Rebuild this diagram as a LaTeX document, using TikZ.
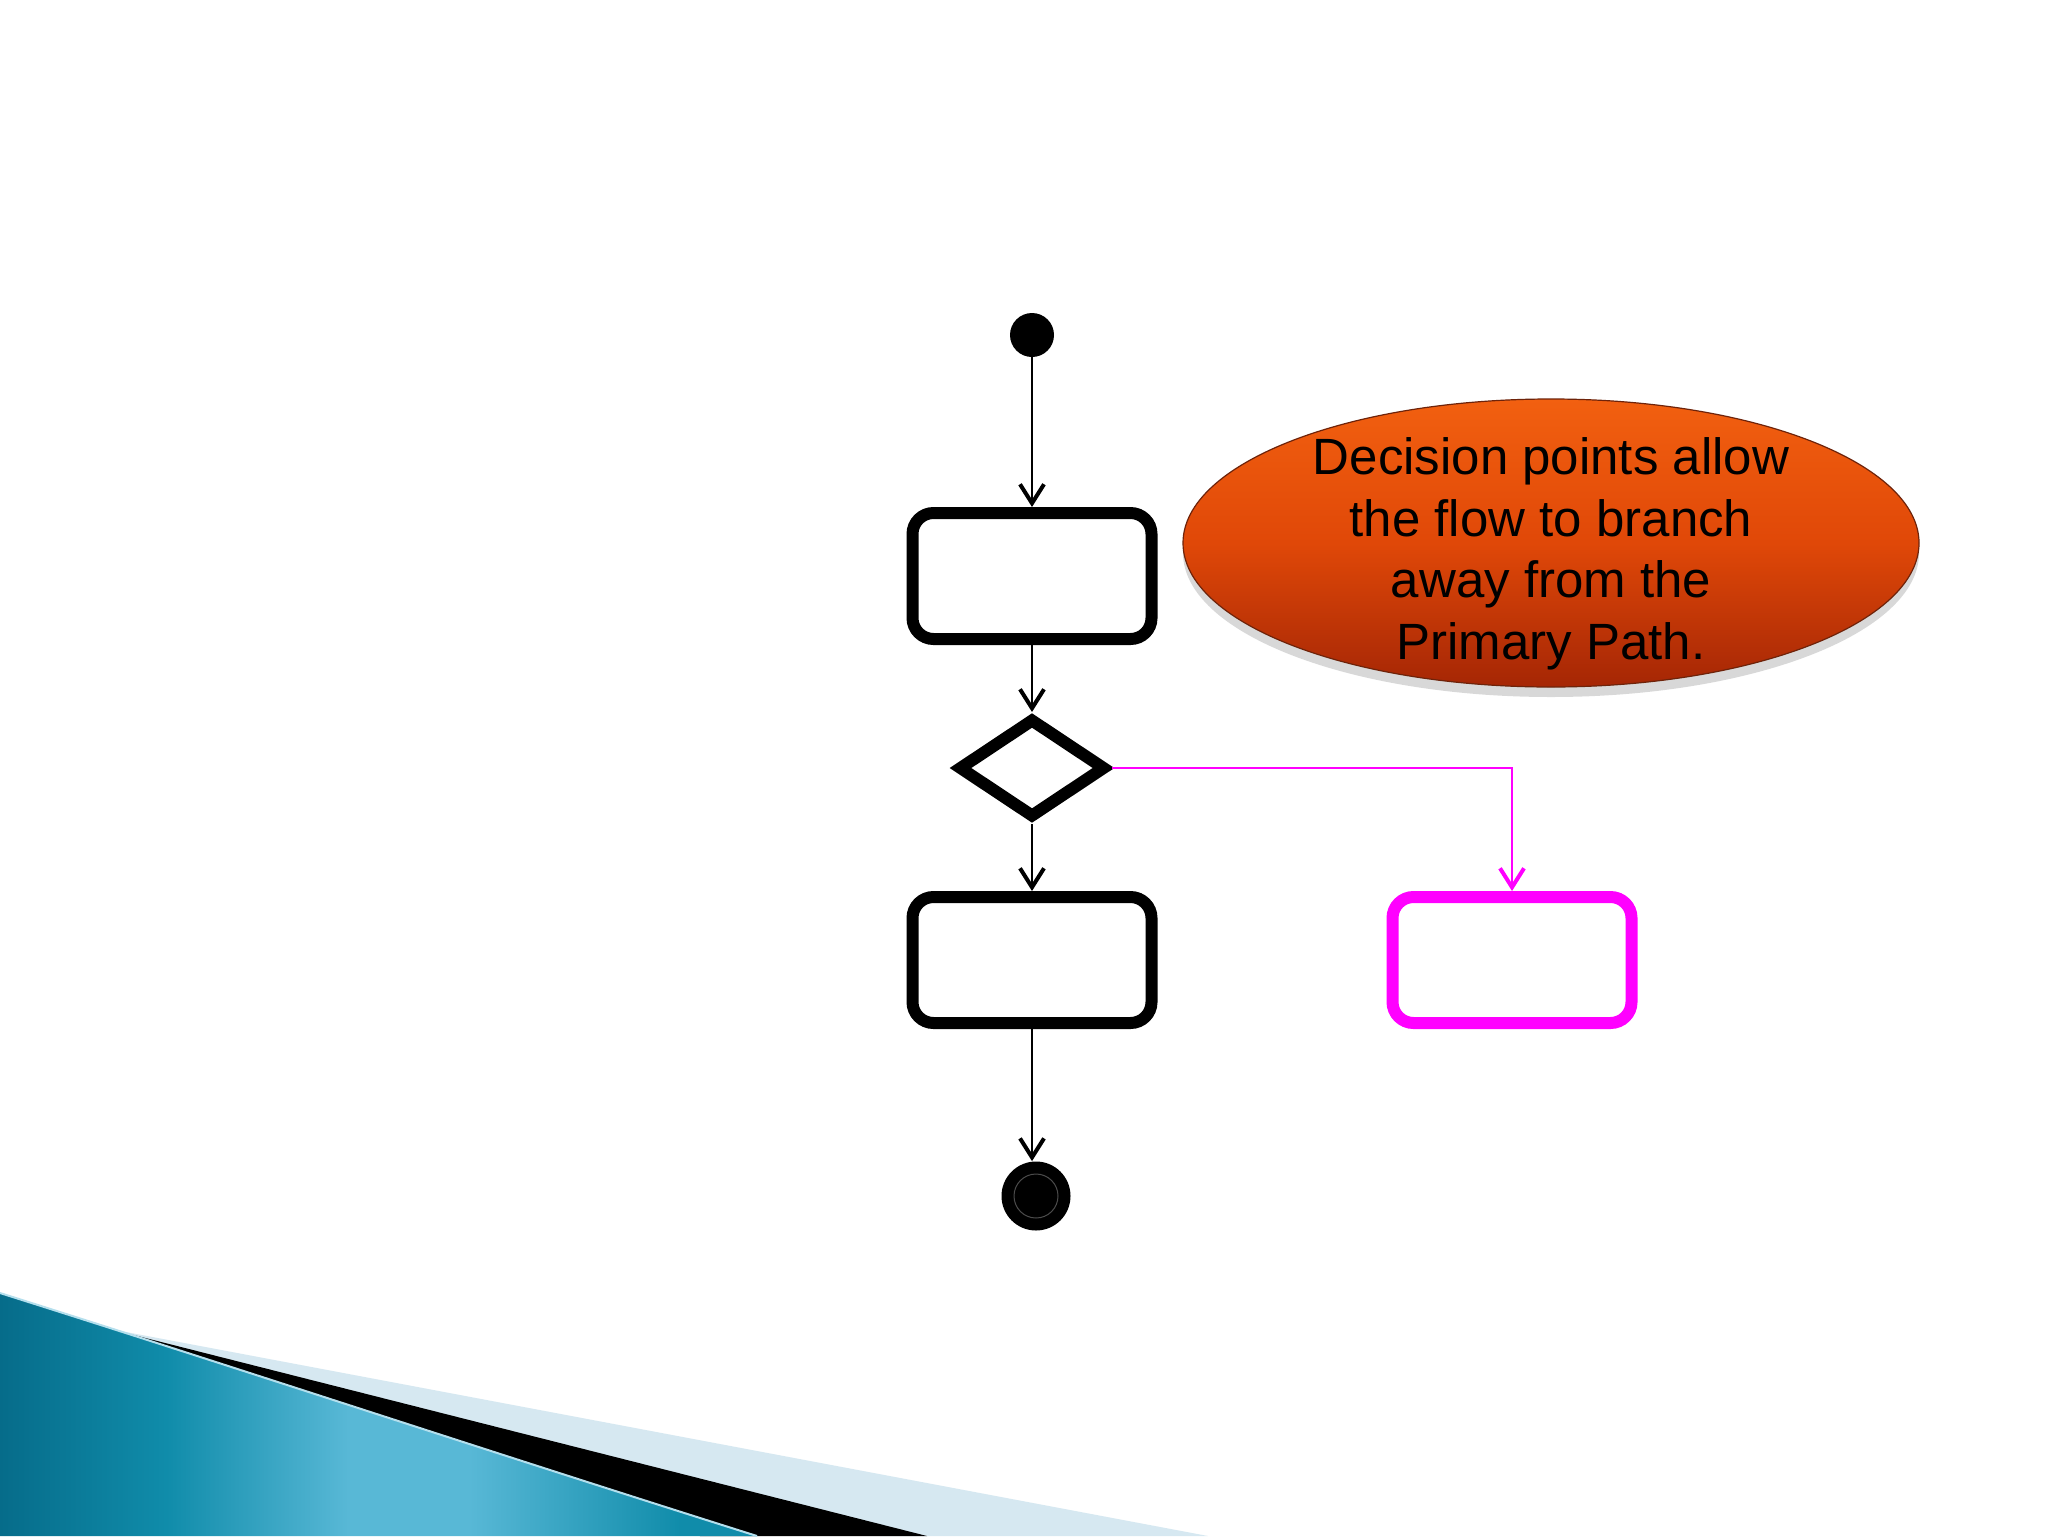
\documentclass[tikz,border=0pt]{standalone}
\usepackage{fontspec}
\newfontfamily\notefont{Liberation Sans}
\usetikzlibrary{arrows.meta,shapes.geometric,shadows}

\definecolor{bubbletop}{RGB}{242,96,16}
\definecolor{bubblemid}{RGB}{224,72,8}
\definecolor{bubblebottom}{RGB}{165,38,5}
\definecolor{bubbleedge}{RGB}{110,35,10}
\definecolor{wavedark}{RGB}{6,108,138}
\definecolor{wavelight}{RGB}{88,184,214}
\definecolor{wavemid}{RGB}{16,140,170}
\definecolor{wavepale}{RGB}{214,232,241}
\definecolor{branchpink}{RGB}{255,0,255}

\pgfdeclarehorizontalshading{waveshade}{100bp}{color(0bp)=(wavedark); color(25bp)=(wavedark); color(36bp)=(wavemid); color(48bp)=(wavelight); color(56bp)=(wavelight); color(70bp)=(wavemid); color(100bp)=(wavemid)}

\tikzset{
  flow/.style={line width=1pt, -{Straight Barb[length=9.5pt,width=12pt,line width=2pt]}},
  activity/.style={draw, line width=6pt, rounded corners=10.5pt, minimum width=119.5pt, minimum height=63pt, inner sep=0pt},
  choice/.style={diamond, draw, line width=6pt, minimum width=74pt, minimum height=50pt, inner sep=0pt},
  startdot/.style={circle, fill=black, minimum size=22pt, inner sep=0pt},
  enddot/.style={circle, fill=black, minimum size=34.5pt, inner sep=0pt,
    path picture={\draw[black!70, line width=0.5pt] (path picture bounding box.center) circle (11pt);}},
  bubble/.style={ellipse, draw=bubbleedge, line width=0.6pt, top color=bubbletop, bottom color=bubblebottom, middle color=bubblemid,
    minimum width=368pt, minimum height=144pt, inner sep=0pt,
    drop shadow={shadow xshift=0pt, shadow yshift=-5pt, opacity=0.3}},
  bubbletext/.style={align=center, inner sep=0pt, font=\notefont\fontsize{25.5}{30.75}\selectfont}
}

\begin{document}
\begin{tikzpicture}[x=0.5pt, y=-0.5pt]
		\useasboundingbox (0,0) rectangle (2048,1536);
		\fill[white] (0,0) rectangle (2048,1536);
		
		% BOTTOM LEFT WAVE
		\fill[wavepale] (110,1329) -- (1208,1536) -- (880,1536) -- cycle;
		\fill[black] (110,1329) -- (927,1536) -- (700,1536) -- cycle;
		\shade[shading=waveshade] (0,1293) .. controls (250,1372) and (500,1455) .. (757,1536) -- (0,1536) -- cycle;
		\draw[white!55!wavelight, line width=1pt] (0,1293) .. controls (250,1372) and (500,1455) .. (757,1536);
		
		% THE NOTE
		\node[bubble] (note) at (1551,543) {};
		\node[bubbletext] at (1551,554) {Decision points allow\\the flow to branch\\away from the\\Primary Path.};
		
		% THE ACTIVITY DIAGRAM
		\node[startdot] (start) at (1032,335) {};
		\node[activity] (act1) at (1032,576) {};
		\node[choice] (decision) at (1032,768) {};
		\node[activity] (act2) at (1032,960) {};
		\node[activity, draw=branchpink] (branch) at (1512,960) {};
		\node[enddot] (final) at (1036,1196) {};
		
		\draw[flow] (start) -- (act1);
		\draw[flow] (act1) -- (decision);
		\draw[flow] (decision) -- (act2);
		\draw[flow] (act2) -- (act2 |- final.north);
		\draw[flow, branchpink] (decision.east) -| (branch.north);
	\end{tikzpicture}
\end{document}
